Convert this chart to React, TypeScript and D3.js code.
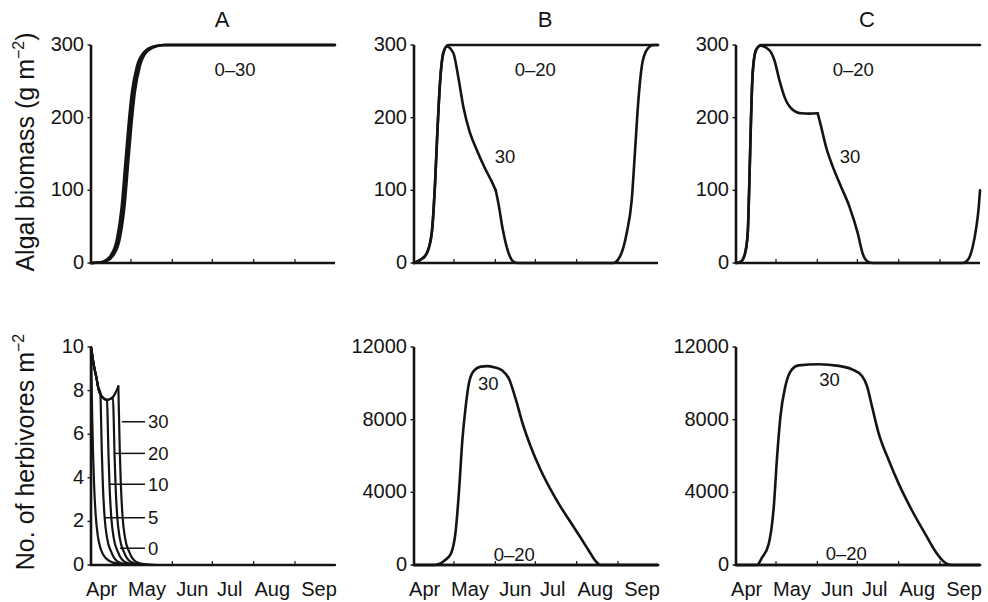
import React from 'react';
import * as d3 from 'd3';

type Pt = [number, number];

// days counted from 1 April; season ends 1 October
const seasonEnd = 183;
const months = ['Apr', 'May', 'Jun', 'Jul', 'Aug', 'Sep'];
const monthStarts = [30, 61, 91, 122, 153];
const monthLabelDays = [8, 42, 76, 104, 136, 171];

const panelTitles = ['A', 'B', 'C'];
const algaeTicks = [0, 100, 200, 300];
const herbTicksA = [0, 2, 4, 6, 8, 10];
const herbTicksBC = [0, 4000, 8000, 12000];

// ---- algal biomass, panel A (all densities 0–30 nearly overlap)
const algaeA0: Pt[] = [[0, 0], [5, 0.5], [9.2, 2], [14.2, 9], [19.3, 32], [23, 78], [25.5, 133], [28, 188], [30.5, 233], [34.3, 270], [39.2, 289], [46.7, 298], [54, 300], [183, 300]];
const algaeA10: Pt[] = [[0, 0], [6, 0.6], [10.4, 2.2], [15.4, 9.5], [20.5, 33], [24.2, 80], [26.7, 135], [29.2, 190], [31.7, 234], [35.5, 271], [40.4, 290], [47.9, 298], [55, 300], [183, 300]];
const algaeA30: Pt[] = [[0, 0], [7, 0.6], [11.6, 2.4], [16.6, 10], [21.7, 34], [25.4, 82], [27.9, 137], [30.4, 191], [32.9, 235], [36.7, 271], [41.6, 290], [49.1, 298], [56, 300], [183, 300]];

// ---- algal biomass, panel B
const algaeB020: Pt[] = [[0, 0], [4.5, 4], [9.5, 13], [13.3, 41], [15.8, 110], [17.5, 179], [19.5, 248], [22, 289], [25.7, 300], [183, 300]];
const algaeB30a: Pt[] = [[0, 0], [4.5, 4], [9.5, 13], [13.3, 41], [15.8, 110], [17.5, 179], [19.5, 248], [22, 289], [24.5, 298], [29.5, 289], [33.2, 256], [37, 215], [42, 179], [47, 156], [53.3, 130], [58.3, 112], [61.3, 100]];
const algaeB30b: Pt[] = [[61.3, 100], [63.5, 80], [66.5, 47], [70.5, 16], [74.5, 2], [78, 0], [149.5, 0], [154.5, 9], [159.5, 41], [163.3, 87], [165.8, 155], [168.3, 224], [170.8, 270], [174.5, 293], [179.5, 300], [183, 300]];

// ---- algal biomass, panel C
const algaeC020: Pt[] = [[0, 0], [3.75, 2], [6.75, 13], [8.8, 41], [10, 110], [11.3, 201], [12.5, 261], [15, 293], [18.8, 300], [183, 300]];
const algaeC30a: Pt[] = [[0, 0], [3.75, 2], [6.75, 13], [8.8, 41], [10, 110], [11.3, 201], [12.5, 261], [15, 293], [18.5, 299], [25, 293], [28.8, 279], [32.5, 252], [36.3, 229], [41.3, 213], [48.8, 206], [55, 205.5], [61.3, 206]];
const algaeC30b: Pt[] = [[61.3, 206], [63.8, 188], [67.5, 160], [72.5, 133], [78.8, 105], [85, 78], [91.3, 41], [95, 13], [98.8, 2], [102.5, 0], [170, 0], [173.8, 4], [177.5, 22], [180.3, 50], [182.1, 78], [183, 100]];

// ---- herbivores, panel A
const herbA0: Pt[] = [[0, 10], [0.4, 8.5], [0.9, 6.8], [1.5, 5.2], [2.3, 3.7], [3.5, 2.3], [5.2, 1.3], [7.5, 0.7], [11, 0.32], [16, 0.12], [24, 0.03], [35, 0], [183, 0]];
const herbA5: Pt[] = [[0, 10], [1, 9.6], [2, 9.2], [3, 8.9], [4.2, 8.55], [5.2, 8.2], [7, 7.9], [7.6, 6.57], [8.1, 5.2], [8.9, 3.67], [10.2, 2.2], [12.1, 1.22], [15.1, 0.61], [20.1, 0.15], [26.5, 0.04], [38.5, 0], [183, 0]];
const herbA10: Pt[] = [[0, 10], [1, 9.6], [2, 9.2], [3, 8.9], [4.2, 8.55], [5.2, 8.2], [6.2, 7.95], [8, 7.75], [10, 7.62], [12, 7.57], [12.6, 6.4], [13.1, 5.1], [13.9, 3.65], [15.2, 2.2], [17.1, 1.22], [20.1, 0.61], [25.1, 0.15], [31.5, 0.04], [43.5, 0], [183, 0]];
const herbA20: Pt[] = [[0, 10], [1, 9.6], [2, 9.2], [3, 8.9], [4.2, 8.55], [5.2, 8.2], [6.2, 7.95], [8, 7.75], [10, 7.62], [12, 7.57], [14, 7.6], [16.5, 7.68], [17.1, 6.5], [17.6, 5.15], [18.4, 3.67], [19.7, 2.2], [21.6, 1.22], [24.6, 0.61], [29.6, 0.15], [36, 0.04], [48, 0], [183, 0]];
const herbA30a: Pt[] = [[0, 10], [1, 9.6], [2, 9.2], [3, 8.9], [4.2, 8.55], [5.2, 8.2], [6.2, 7.95], [8, 7.75], [10, 7.62], [12, 7.57], [14, 7.6], [16, 7.68], [18, 7.85], [19.5, 8.05], [20.5, 8.2]];
const herbA30b: Pt[] = [[20.5, 8.2], [21.1, 6.57], [21.6, 5.2], [22.4, 3.67], [23.7, 2.2], [25.6, 1.22], [28.6, 0.61], [33.6, 0.15], [40, 0.04], [52, 0], [183, 0]];

// ---- herbivores, panels B and C
const herbB020: Pt[] = [[0, 0], [183, 0]];
const herbB30: Pt[] = [[0, 0], [15, 0], [22.5, 222], [27.5, 595], [31.3, 1890], [33.8, 4116], [36.3, 6900], [38.8, 8750], [41.3, 10050], [45, 10700], [50, 10920], [55, 10950], [60, 10890], [66.3, 10700], [71.3, 10240], [76.3, 9125], [81.3, 7830], [87.5, 6525], [95, 5230], [102.5, 4150], [110, 3200], [117.5, 2350], [125, 1500], [131, 800], [135, 330], [138, 80], [140, 0], [183, 0]];
const herbC020: Pt[] = [[0, 0], [183, 0]];
const herbC30: Pt[] = [[0, 0], [15.75, 0], [19.5, 405], [24.5, 1150], [28.3, 3170], [30.8, 5940], [33.3, 8160], [37, 9840], [42, 10770], [47, 10990], [62, 11050], [77, 10960], [87, 10770], [94.5, 10400], [98.3, 9840], [102, 8730], [107, 7250], [114.5, 5780], [122, 4480], [132, 3000], [142, 1700], [150, 700], [155, 240], [159, 40], [162, 0], [183, 0]];

// curve labels [day, value, text]
const labelsTopA: [number, number, string][] = [[108, 266, '0–30']];
const labelsTopB: [number, number, string][] = [[91, 266, '0–20'], [68.3, 146, '30']];
const labelsTopC: [number, number, string][] = [[88, 266, '0–20'], [85.5, 146, '30']];
const labelsBotB: [number, number, string][] = [[55.7, 10000, '30'], [75.2, 550, '0–20']];
const labelsBotC: [number, number, string][] = [[70.2, 10220, '30'], [82.7, 605, '0–20']];

// leader labels in bottom A: [touch day, value, text]
const leadersA: [number, number, string][] = [[23.1, 6.57, '30'], [17.5, 5.12, '20'], [14.2, 3.7, '10'], [10.5, 2.17, '5'], [21.8, 0.77, '0']];
const leaderEndDay = 40.5;
const leaderTextDay = 42.8;

const FONT = '"Liberation Sans", Arial, Helvetica, sans-serif';
const INK = '#141414';

const colLeft = [91, 414, 736];
const colWidth = 244;
const topRow = { top: 45, bottom: 263 };
const botRow = { top: 347, bottom: 565 };

type PanelCfg = {
  left: number;
  row: { top: number; bottom: number };
  yMax: number;
  ticks: number[];
  series: Pt[][];
  lw: number;
  labels: [number, number, string][];
  months: boolean;
  leaders?: [number, number, string][];
};

const Panel = ({ cfg }: { cfg: PanelCfg }) => {
  const x = d3.scaleLinear().domain([0, seasonEnd]).range([cfg.left, cfg.left + colWidth]);
  const y = d3.scaleLinear().domain([0, cfg.yMax]).range([cfg.row.bottom, cfg.row.top]);
  const line = d3
    .line<Pt>()
    .x((d) => x(d[0]))
    .y((d) => y(d[1]))
    .curve(d3.curveMonotoneX);

  return (
    <g>
      {cfg.series.map((s, i) => (
        <path key={i} d={line(s) || ''} fill="none" stroke={INK} strokeWidth={cfg.lw} strokeLinejoin="round" strokeLinecap="round" />
      ))}
      {/* axes */}
      <line x1={x(0)} x2={x(0)} y1={y(0) + 1} y2={y(cfg.yMax)} stroke={INK} strokeWidth={2.6} />
      <line x1={x(0) - 1} x2={x(seasonEnd)} y1={y(0)} y2={y(0)} stroke={INK} strokeWidth={2.6} />
      {monthStarts.map((d) => (
        <line key={d} x1={x(d)} x2={x(d)} y1={y(0)} y2={y(0) - 4} stroke={INK} strokeWidth={1.2} />
      ))}
      {cfg.ticks.map((t) => (
        <g key={t}>
          <line x1={x(0) - 3.5} x2={x(0)} y1={y(t)} y2={y(t)} stroke={INK} strokeWidth={1.4} />
          <text x={x(0) - 7} y={y(t) - 1} dy="0.35em" textAnchor="end" fontSize={20} fill={INK}>
            {t}
          </text>
        </g>
      ))}
      {cfg.months &&
        months.map((m, i) => (
          <text key={m} x={x(monthLabelDays[i])} y={596} textAnchor="middle" fontSize={20} fill={INK}>
            {m}
          </text>
        ))}
      {cfg.labels.map(([d, v, t], i) => (
        <text key={i} x={x(d)} y={y(v)} dy="0.35em" textAnchor="middle" fontSize={18.5} fill={INK}>
          {t}
        </text>
      ))}
      {cfg.leaders &&
        cfg.leaders.map(([d, v, t], i) => (
          <g key={i}>
            <line x1={x(d)} x2={x(leaderEndDay)} y1={y(v)} y2={y(v)} stroke={INK} strokeWidth={1.5} />
            <text x={x(leaderTextDay)} y={y(v)} dy="0.35em" textAnchor="start" fontSize={18.5} fill={INK}>
              {t}
            </text>
          </g>
        ))}
    </g>
  );
};

export default function App() {
  const panels: PanelCfg[] = [
    { left: colLeft[0], row: topRow, yMax: 300, ticks: algaeTicks, series: [algaeA0, algaeA10, algaeA30], lw: 2.4, labels: labelsTopA, months: false },
    { left: colLeft[1], row: topRow, yMax: 300, ticks: algaeTicks, series: [algaeB020, algaeB30a, algaeB30b], lw: 2.6, labels: labelsTopB, months: false },
    { left: colLeft[2], row: topRow, yMax: 300, ticks: algaeTicks, series: [algaeC020, algaeC30a, algaeC30b], lw: 2.6, labels: labelsTopC, months: false },
    { left: colLeft[0], row: botRow, yMax: 10, ticks: herbTicksA, series: [herbA0, herbA5, herbA10, herbA20, herbA30a, herbA30b], lw: 2.2, labels: [], months: true, leaders: leadersA },
    { left: colLeft[1], row: botRow, yMax: 12000, ticks: herbTicksBC, series: [herbB020, herbB30], lw: 2.6, labels: labelsBotB, months: true },
    { left: colLeft[2], row: botRow, yMax: 12000, ticks: herbTicksBC, series: [herbC020, herbC30], lw: 2.6, labels: labelsBotC, months: true },
  ];

  const titleX = colLeft.map((l) => l + colWidth / 2 + 9);

  return (
    <svg
      width={988}
      height={602}
      style={{ position: 'absolute', left: 0, top: 0, background: '#fff' }}
      fontFamily={FONT}
    >
      <rect width={988} height={602} fill="#fff" />
      {panelTitles.map((t, i) => (
        <text key={t} x={titleX[i]} y={27} textAnchor="middle" fontSize={22} fill={INK}>
          {t}
        </text>
      ))}
      <text transform="translate(34,152) rotate(-90)" textAnchor="middle" fontSize={25} fill={INK}>
        Algal biomass (g m
        <tspan fontSize={16} dy={-10}>−2</tspan>
        <tspan dy={10}>)</tspan>
      </text>
      <text transform="translate(34,452) rotate(-90)" textAnchor="middle" fontSize={25} fill={INK}>
        No. of herbivores m
        <tspan fontSize={16} dy={-10}>−2</tspan>
      </text>
      {panels.map((p, i) => (
        <Panel key={i} cfg={p} />
      ))}
    </svg>
  );
}
